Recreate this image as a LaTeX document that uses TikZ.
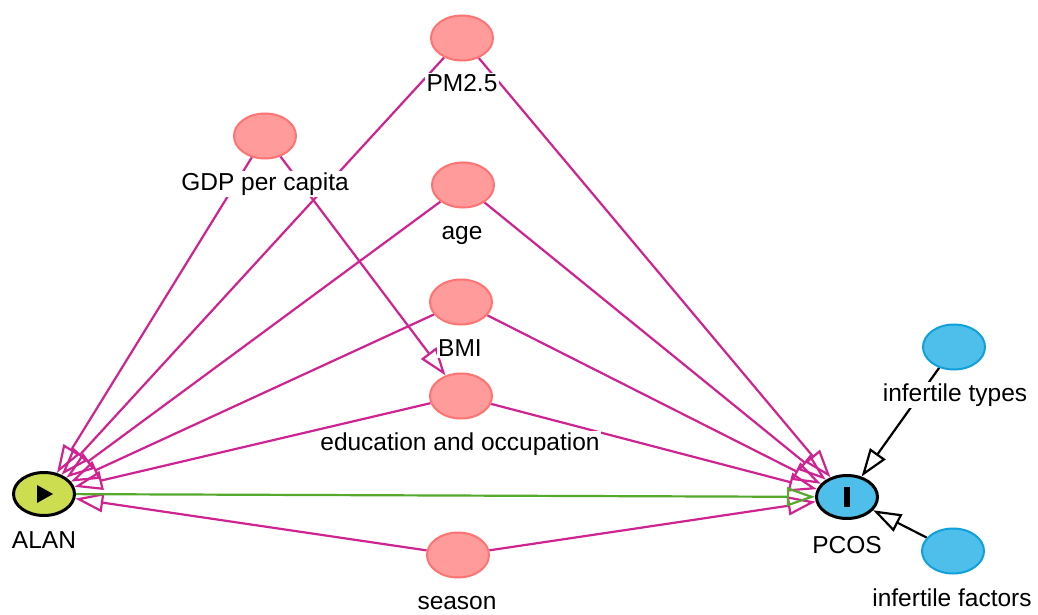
\documentclass[tikz,border=0pt]{standalone}
\usepackage{fontspec}
\setmainfont{Liberation Sans}
\usetikzlibrary{arrows.meta,shapes.geometric,calc}
\definecolor{pinkF}{RGB}{255,155,155}
\definecolor{pinkB}{RGB}{255,115,115}
\definecolor{blueF}{RGB}{78,191,234}
\definecolor{blueB}{RGB}{16,160,220}
\definecolor{expoF}{RGB}{204,222,80}
\definecolor{magE}{RGB}{206,35,145}
\definecolor{grnE}{RGB}{85,170,45}
\pgfdeclarelayer{edges}
\pgfsetlayers{edges,main}
\tikzset{
  basenode/.style={ellipse, inner sep=0pt, line width=2pt, minimum width=62pt, minimum height=45pt},
  pinknode/.style={basenode, draw=pinkB, fill=pinkF},
  bluenode/.style={basenode, draw=blueB, fill=blueF},
  exponode/.style={basenode, draw=black, fill=expoF, line width=3pt, minimum width=61pt, minimum height=43pt},
  outnode/.style={basenode, draw=black, fill=blueF, line width=3pt, minimum width=61pt, minimum height=43pt},
  lbl/.style={fill=white, inner sep=1.5pt, anchor=base, font=\fontsize{24.5}{29}\selectfont},
  tipshape/.style={-{Triangle[open,length=28pt,width=19pt]}},
  biasedge/.style={draw=magE, line width=2.2pt, tipshape},
  causaledge/.style={draw=grnE, line width=2.2pt, tipshape},
  plainedge/.style={draw=black, line width=2.2pt, tipshape}
}
\begin{document}
\begin{tikzpicture}[x=1pt,y=-1pt]
\useasboundingbox (0,0) rectangle (1038,615);
% nodes
\node[exponode] (ALAN) at (44,494) {};
\node[outnode] (PCOS) at (847,497) {};
\node[pinknode] (PM) at (462,38) {};
\node[pinknode] (GDP) at (265,136) {};
\node[pinknode] (AGE) at (463,185) {};
\node[pinknode] (BMI) at (461,302) {};
\node[pinknode] (EDU) at (461,396) {};
\node[pinknode] (SEA) at (458,555) {};
\node[bluenode] (ITY) at (954,347) {};
\node[bluenode] (IFA) at (953,551) {};
% symbols
\fill[black] ($(ALAN.center)+(-7,-9)$) -- ($(ALAN.center)+(9,0)$) -- ($(ALAN.center)+(-7,9)$) -- cycle;
\fill[black] ($(PCOS.center)+(-3,-10)$) rectangle ($(PCOS.center)+(3,10)$);
% labels
\node[lbl] (ALANl) at (44,548) {ALAN};
\node[lbl] (PCOSl) at (847,553) {PCOS};
\node[lbl] (PMl) at (462,92) {PM2.5};
\node[lbl] (GDPl) at (265,190) {GDP per capita};
\node[lbl] (AGEl) at (462,239) {age};
\node[lbl] (BMIl) at (460,356) {BMI};
\node[lbl] (EDUl) at (460,450) {education and occupation};
\node[lbl] (SEAl) at (457,609) {season};
\node[lbl] (ITYl) at (955,401) {infertile types};
\node[lbl] (IFAl) at (952,606) {infertile factors};
% edges
\begin{pgfonlayer}{edges}
\fill[white] (0,0) rectangle (1038,615);
\draw[biasedge] (GDP) -- (ALAN);
\draw[biasedge] (GDP) -- (EDU);
\draw[biasedge] (PM) -- (ALAN);
\draw[biasedge] (PM) -- (PCOS);
\draw[biasedge] (AGE) -- (ALAN);
\draw[biasedge] (AGE) -- (PCOS);
\draw[biasedge] (BMI) -- (ALAN);
\draw[biasedge] (BMI) -- (PCOS);
\draw[biasedge] (EDU) -- (ALAN);
\draw[biasedge] (EDU) -- (PCOS);
\draw[biasedge] (SEA) -- (ALAN);
\draw[biasedge] (SEA) -- (PCOS);
\draw[causaledge] (ALAN) -- (PCOS);
\draw[plainedge] (ITY) -- (PCOS);
\draw[plainedge] (IFA) -- (PCOS);
\end{pgfonlayer}
\end{tikzpicture}
\end{document}
